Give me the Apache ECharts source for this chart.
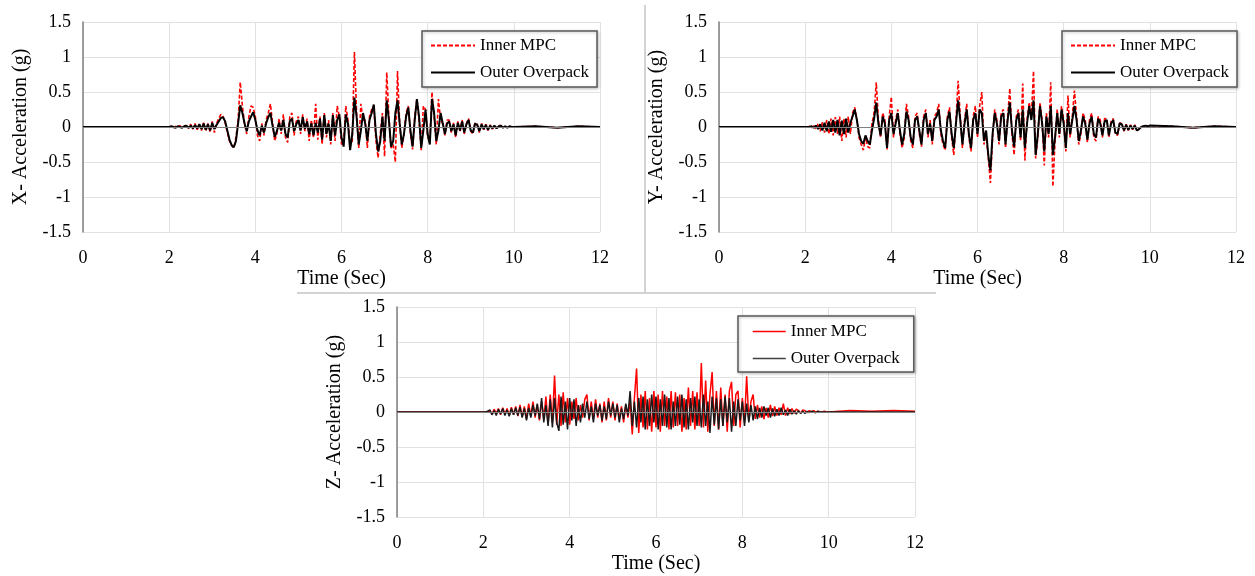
<!DOCTYPE html>
<html>
<head>
<meta charset="utf-8">
<title>Acceleration time histories</title>
<script src="https://cdn.jsdelivr.net/npm/echarts@6/dist/echarts.min.js"></script>
<style>
    html, body { margin: 0; padding: 0; background: #fff; }
    #main { width: 1255px; height: 576px; }
</style>
</head>
<body>
<div id="main"></div>
<script>
// sample times: quiet head, 2.00 .. 10.00 every 0.05 s, quiet tail
var headSec = [0, 0.5, 1, 1.5];
var tailSec = [10.5, 11, 11.5, 12];
var timeSec = headSec.slice();
for (var i = 0; i <= 160; i++) {
    timeSec.push(Math.round((2 + i * 0.05) * 100) / 100);
}
timeSec = timeSec.concat(tailSec);

var seriesNames = ['Inner MPC', 'Outer Overpack'];
var axisTitles = ['X- Acceleration (g)', 'Y- Acceleration (g)', 'Z- Acceleration (g)'];

// X direction (one row = 1 s)
var innerX = [0, 0, 0, 0,
    0, 0.01, -0.01, 0.01, 0, 0.02, -0.01, 0.01, 0.03, -0.02, 0.04, -0.03, 0.05, -0.04, 0.03, -0.05, 0.06, -0.06, 0.05, -0.07,
    0.08, -0.08, 0.05, 0.12, 0.18, 0.15, 0.06, -0.08, -0.2, -0.26, -0.3, -0.15, 0.1, 0.64, 0.3, 0.05, -0.1, 0.15, 0.3, 0.28,
    0.15, -0.12, -0.2, 0.05, -0.12, 0.1, 0.2, 0.33, 0.05, -0.2, -0.1, 0.12, -0.1, 0.18, -0.15, -0.22, 0.15, 0.2, -0.12, 0.08,
    0.15, -0.1, 0.18, -0.06, 0.12, -0.2, 0.1, -0.15, 0.33, -0.18, 0.15, -0.25, 0.2, -0.15, 0.1, -0.25, 0.2, -0.2, 0.3, 0.15,
    -0.25, -0.2, 0.3, 0.1, -0.25, -0.2, 1.07, 0.2, -0.3, 0.33, 0.1, 0.1, -0.3, 0.15, 0.25, 0.3, -0.2, -0.44, -0.1, 0.2,
    -0.42, 0.78, 0.15, -0.3, -0.25, -0.5, 0.8, 0.05, -0.3, -0.1, 0.2, 0.3, -0.1, -0.32, 0.15, 0.4, 0.1, -0.33, 0.3, 0.25,
    -0.15, -0.2, 0.5, 0.15, -0.25, 0.4, 0.1, 0.05, -0.12, 0.1, 0.1, -0.08, 0.06, -0.15, 0.08, -0.06, 0.1, -0.1, 0.05, 0.12,
    -0.06, -0.1, 0.06, 0.04, -0.08, 0.05, -0.04, 0.04, -0.05, 0.03, -0.03, 0.02, -0.02, 0.02, 0.02, -0.01, 0.01, -0.01, 0.01, 0,
    0,
    0.01, -0.01, 0.01, 0];
var outerX = [0, 0, 0, 0,
    0, 0.01, 0, -0.01, 0.01, 0, -0.01, 0.01, 0.02, -0.01, 0.02, -0.02, 0.03, -0.02, 0.04, -0.03, 0.05, -0.04, 0.04, -0.05,
    0.06, -0.03, 0.03, 0.08, 0.13, 0.14, 0.08, -0.05, -0.18, -0.26, -0.29, -0.2, 0.05, 0.31, 0.2, 0.05, -0.06, 0.08, 0.15, 0.21,
    0.1, -0.05, -0.12, 0.02, -0.08, 0.05, 0.14, 0.2, 0.02, -0.14, -0.06, 0.06, -0.05, 0.1, -0.1, -0.15, 0.08, 0.12, -0.06, 0.04,
    0.1, -0.05, 0.14, -0.03, 0.08, -0.1, 0.05, -0.12, 0.06, -0.08, 0.12, -0.18, 0.17, -0.1, 0.05, -0.2, 0.17, -0.12, 0.1, 0.18,
    -0.15, -0.28, 0.18, 0.05, -0.33, -0.1, 0.42, 0.15, -0.25, -0.05, 0.2, 0.05, -0.2, 0.1, 0.2, 0.32, -0.1, -0.35, -0.2, 0.15,
    -0.2, 0.38, 0.1, -0.28, -0.2, 0.2, 0.38, 0.05, -0.25, -0.1, 0.15, 0.28, -0.05, -0.28, 0.1, 0.4, 0.15, -0.3, -0.05, 0.25,
    -0.1, -0.25, 0.4, 0.2, -0.2, -0.05, 0.2, 0.05, -0.1, 0.05, 0.08, -0.06, 0.04, -0.12, 0.06, -0.05, 0.08, -0.08, 0.04, 0.1,
    -0.05, -0.08, 0.05, 0.03, -0.06, 0.04, -0.03, 0.03, -0.04, 0.02, -0.02, 0.02, -0.02, 0.01, 0.02, -0.01, 0.01, -0.01, 0.01, 0,
    0,
    0.01, -0.01, 0.01, 0];

// Y direction
var innerY = [0, 0, 0, 0,
    0, 0, 0.01, -0.01, 0.02, -0.03, 0.05, -0.06, 0.07, -0.08, 0.1, -0.1, 0.12, -0.12, 0.14, -0.1, 0.15, -0.2, 0.12, -0.15,
    0.15, -0.1, 0.2, 0.28, 0.12, -0.15, -0.25, -0.33, -0.15, -0.28, -0.3, 0.05, 0.2, 0.64, 0.1, -0.15, 0.2, 0.1, -0.32, 0.15,
    0.43, -0.15, 0.1, 0.25, -0.1, -0.3, -0.15, 0.33, 0.15, -0.2, -0.3, 0.15, 0.2, -0.1, -0.28, 0.15, 0.25, -0.15, 0.1, -0.25,
    0.15, 0.2, 0.33, -0.1, -0.25, -0.33, 0.15, 0.28, -0.15, -0.4, 0.1, 0.66, 0.15, -0.3, 0.1, 0.33, -0.15, -0.35, 0.15, 0.3,
    -0.15, 0.3, 0.5, -0.25, -0.1, -0.45, -0.8, -0.15, 0.25, 0.1, -0.25, 0.2, 0.25, -0.3, 0.15, 0.55, -0.1, -0.4, 0.15, 0.25,
    -0.2, 0.62, -0.48, 0.1, 0.35, 0.15, 0.8, -0.45, -0.15, 0.35, 0.1, -0.55, 0.2, -0.15, 0.64, -0.85, -0.2, 0.25, -0.15, 0.3,
    0.1, -0.35, 0.45, -0.15, 0.15, 0.52, 0.15, -0.25, -0.1, 0.2, 0.1, -0.22, 0.1, 0.2, -0.15, -0.2, 0.15, 0.1, -0.15, 0.12,
    0.12, -0.15, 0.08, 0.12, -0.1, -0.12, 0.06, 0.05, -0.06, 0.04, -0.05, 0.03, -0.04, 0.03, -0.05, -0.03, 0, 0.01, 0.02, 0.01,
    0.02,
    0.01, -0.01, 0.01, 0];
var outerY = [0, 0, 0, 0,
    0, 0, 0, 0.01, -0.01, 0.02, -0.03, 0.04, -0.05, 0.06, -0.06, 0.08, -0.07, 0.1, -0.08, 0.1, -0.12, 0.09, -0.1, 0.12,
    -0.08, 0.06, 0.15, 0.25, 0.1, -0.1, -0.2, -0.24, -0.12, -0.2, -0.25, -0.05, 0.12, 0.35, 0.05, -0.12, 0.15, 0.05, -0.3, 0.1,
    0.2, -0.1, 0.05, 0.2, -0.05, -0.25, -0.1, 0.22, 0.1, -0.15, -0.25, 0.1, 0.15, -0.05, -0.25, 0.1, 0.2, -0.1, 0.05, -0.2,
    0.1, 0.15, 0.25, -0.05, -0.2, -0.3, 0.1, 0.22, -0.1, -0.3, 0.05, 0.38, 0.1, -0.25, 0.05, 0.25, -0.1, -0.3, 0.1, 0.2,
    -0.1, 0.25, 0.2, -0.2, -0.05, -0.4, -0.62, -0.1, 0.2, 0.05, -0.2, 0.15, 0.2, -0.25, 0.1, 0.35, -0.05, -0.28, 0.1, 0.2,
    -0.15, 0.25, -0.3, 0.05, 0.3, 0.1, 0.38, -0.4, -0.1, 0.3, 0.05, -0.35, 0.15, -0.1, 0.3, -0.4, -0.15, 0.2, -0.1, 0.25,
    0.05, -0.3, 0.2, -0.1, 0.1, 0.3, 0.1, -0.2, -0.05, 0.15, 0.05, -0.18, 0.05, 0.15, -0.1, -0.15, 0.12, 0.05, -0.12, 0.08,
    0.1, -0.12, 0.05, 0.1, -0.08, -0.1, 0.05, 0.04, -0.05, 0.03, -0.04, 0.02, -0.03, 0.02, -0.05, -0.03, 0, 0.01, 0.02, 0.01,
    0.02,
    0.01, -0.01, 0.01, 0];

// Z direction
var innerZ = [0, 0, 0, 0,
    0, 0, 0, 0.02, -0.03, 0.04, -0.02, 0.05, -0.04, 0.06, -0.03, 0.05, -0.05, 0.07, -0.04, 0.08, -0.06, 0.1, -0.07, 0.08,
    -0.1, 0.12, -0.06, 0.15, -0.08, 0.1, -0.12, 0.15, -0.1, 0.22, -0.18, 0.25, -0.15, 0.52, -0.18, 0.25, -0.2, 0.28, -0.15, 0.2,
    -0.18, 0.15, -0.1, 0.2, -0.12, 0.1, -0.08, 0.18, 0.25, -0.12, 0.15, -0.1, 0.18, -0.08, 0.12, -0.15, 0.15, -0.12, 0.2, -0.08,
    0.15, -0.12, 0.12, -0.1, 0.08, -0.15, 0.1, -0.08, 0.15, -0.32, 0.2, 0.62, -0.3, 0.25, -0.22, 0.3, -0.25, 0.2, -0.28, 0.3,
    -0.22, 0.25, -0.28, 0.3, -0.2, 0.22, -0.25, 0.3, -0.22, 0.28, -0.2, 0.25, -0.28, 0.2, -0.25, 0.35, -0.2, 0.3, -0.25, 0.28,
    -0.2, 0.7, -0.22, 0.45, -0.28, 0.25, 0.57, -0.2, 0.3, -0.25, 0.35, -0.2, 0.25, -0.28, 0.3, 0.43, -0.2, 0.25, 0.3, -0.22,
    0.2, -0.15, 0.51, -0.12, 0.15, 0.25, -0.1, 0.1, -0.08, 0.08, -0.1, 0.06, -0.08, 0.1, -0.06, 0.08, -0.05, 0.06, -0.04, 0.12,
    -0.05, 0.06, -0.03, 0.05, -0.02, 0.04, 0.02, -0.02, 0.03, 0.02, -0.01, 0.02, 0, 0.02, 0, 0.01, 0, 0, 0.01, 0,
    0,
    0.02, 0.01, 0.02, 0.01];
var outerZ = [0, 0, 0, 0,
    0, 0, 0.01, 0.03, -0.04, 0.02, -0.05, 0.04, -0.03, 0.05, -0.05, 0.03, -0.06, 0.05, -0.04, 0.06, -0.05, 0.07, -0.08, 0.05,
    -0.12, 0.06, -0.08, 0.1, -0.05, 0.12, -0.1, 0.2, -0.15, 0.1, -0.2, 0.18, -0.22, 0.2, -0.15, -0.27, 0.22, -0.18, 0.15, -0.25,
    0.2, -0.12, 0.18, -0.2, 0.1, -0.15, 0.12, -0.08, 0.15, -0.1, 0.08, -0.15, 0.12, -0.05, 0.1, -0.12, 0.08, -0.1, 0.15, -0.05,
    0.12, -0.08, 0.1, -0.15, 0.05, -0.1, 0.12, -0.05, 0.3, -0.2, 0.15, -0.22, 0.2, -0.15, 0.22, -0.25, 0.18, -0.2, 0.25, -0.15,
    0.22, -0.25, 0.18, -0.2, 0.25, -0.22, 0.2, -0.25, 0.15, -0.2, 0.22, -0.18, 0.25, -0.22, 0.18, -0.25, 0.2, -0.15, 0.22, -0.2,
    0.18, -0.22, 0.25, -0.2, 0.15, -0.3, 0.22, -0.18, 0.2, -0.25, 0.18, -0.2, 0.22, -0.15, 0.2, -0.28, 0.15, -0.2, 0.18, -0.12,
    0.15, -0.2, 0.12, -0.15, 0.1, -0.12, 0.08, -0.1, 0.06, -0.08, 0.08, -0.05, 0.06, -0.08, 0.05, -0.06, 0.04, -0.05, 0.06, -0.04,
    0.03, -0.05, 0.04, -0.03, 0.02, -0.03, 0.02, -0.02, 0.01, -0.02, 0.01, -0.01, 0.01, 0, -0.01, 0.01, 0, 0, 0, 0,
    0,
    0, 0, 0, 0];

(function () {
    var font = 'Liberation Serif';
    var chart = echarts.init(document.getElementById('main'));

    function pairs(vals) {                                  // [time, value] for the value x axis
        return vals.map(function (v, i) { return [timeSec[i], v]; });
    }

    // panel boxes (plot areas)
    var grids = [
        { left: 83, top: 22, width: 517, height: 210 },
        { left: 719, top: 22, width: 517, height: 210 },
        { left: 397, top: 307, width: 518, height: 210 }
    ];

    var xAxes = [], yAxes = [];
    grids.forEach(function (g, k) {
        xAxes.push({
            type: 'value', gridIndex: k, min: 0, max: 12, interval: 2,
            name: 'Time (Sec)', nameLocation: 'middle', nameGap: 37,
            nameTextStyle: { fontFamily: font, fontSize: 20, color: '#000' },
            axisLine: { show: false }, axisTick: { show: false },
            axisLabel: { fontFamily: font, fontSize: 18, color: '#000', margin: 17 },
            splitLine: { lineStyle: { color: '#e2e2e2', width: 1 } }
        });
        yAxes.push({
            type: 'value', gridIndex: k, min: -1.5, max: 1.5, interval: 0.5,
            name: axisTitles[k], nameLocation: 'middle', nameGap: 52, nameRotate: 90,
            nameTextStyle: { fontFamily: font, fontSize: 20, color: '#000' },
            axisLine: { show: true, lineStyle: { color: '#7f7f7f', width: 1.5 } },
            axisTick: { show: false },
            axisLabel: { fontFamily: font, fontSize: 18, color: '#000', margin: 12 },
            splitLine: { lineStyle: { color: '#e2e2e2', width: 1 } }
        });
    });

    var zeroLine = {                                        // horizontal axis crossing at 0
        silent: true, symbol: 'none', label: { show: false },
        lineStyle: { color: '#808080', width: 1, type: 'solid' },
        data: [{ yAxis: 0 }]
    };

    var inner = [innerX, innerY, innerZ];
    var outer = [outerX, outerY, outerZ];
    var series = [];
    for (var k = 0; k < 3; k++) {
        var dashed = k < 2;
        series.push({
            name: seriesNames[0], type: 'line', xAxisIndex: k, yAxisIndex: k,
            symbol: 'none', data: pairs(inner[k]), z: 2,
            lineStyle: { color: '#ff0000', width: dashed ? 1.6 : 1.5, type: dashed ? [4, 2] : 'solid' },
            itemStyle: { color: '#ff0000' },
            markLine: zeroLine
        });
        series.push({
            name: seriesNames[1], type: 'line', xAxisIndex: k, yAxisIndex: k,
            symbol: 'none', data: pairs(outer[k]), z: 3,
            lineStyle: { color: dashed ? '#000' : '#1a1a1a', width: dashed ? 2 : 1.5 },
            itemStyle: { color: '#000' }
        });
    }

    function legendBox(left, top, itemWidth, padding, zStyle) {
        var data = seriesNames.map(function (n) { return { name: n }; });
        if (zStyle) {
            data[0].lineStyle = { color: '#ff0000', width: 1.5, type: 'solid' };
            data[1].lineStyle = { color: '#404040', width: 1.5, type: 'solid' };
        }
        return {
            left: left, top: top, orient: 'vertical', data: data,
            itemWidth: itemWidth, itemHeight: 10, itemGap: 10, padding: padding,
            itemStyle: { opacity: 0 },                      // line only, no marker in the key
            backgroundColor: '#fff', borderColor: '#595959', borderWidth: 1.5,
            shadowColor: 'rgba(0,0,0,0.25)', shadowBlur: 3, shadowOffsetX: 1, shadowOffsetY: 1,
            selectedMode: false,
            textStyle: { fontFamily: font, fontSize: 17, color: '#000' }
        };
    }

    var option = {
        backgroundColor: '#fff',
        animation: false,
        grid: grids,
        xAxis: xAxes,
        yAxis: yAxes,
        legend: [
            legendBox(422, 31, 44, [6, 8, 6, 8], false),
            legendBox(1062, 31, 44, [6, 8, 6, 8], false),
            legendBox(738, 316, 33, [7, 14, 5, 14], true)
        ],
        graphic: [                                          // separators between the three figures
            { type: 'line', shape: { x1: 645, y1: 5, x2: 645, y2: 292 }, style: { stroke: '#c4c4c4', lineWidth: 1.5 } },
            { type: 'line', shape: { x1: 297, y1: 293, x2: 936, y2: 293 }, style: { stroke: '#c4c4c4', lineWidth: 1.5 } }
        ],
        series: series
    };
    chart.setOption(option);
})();
</script>
</body>
</html>
